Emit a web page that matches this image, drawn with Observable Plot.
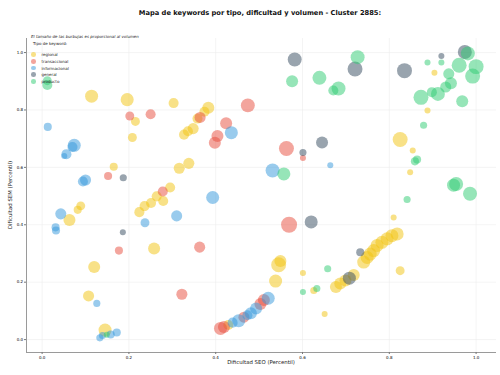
<!DOCTYPE html>
<html>
<head>
<meta charset="utf-8">
<script src="https://cdn.jsdelivr.net/npm/d3@7"></script>
<script src="https://cdn.jsdelivr.net/npm/@observablehq/plot@0.6"></script>
<style>
  body { margin: 0; background: #fff; font-family: "DejaVu Sans", sans-serif; }
  #wrap { position: relative; width: 500px; height: 375px; }
  #title { position: absolute; top: 9px; left: 0; width: 520px; text-align: center;
           font-weight: bold; font-size: 6.7px; color: #111; }
  .xlab { position: absolute; top: 358.5px; left: 0; width: 522px; text-align: center; font-size: 5.4px; color: #222; }
  .ylab { position: absolute; left: 10px; top: 195px; font-size: 5.4px; color: #222; white-space: nowrap;
          transform: translate(-50%, -50%) rotate(-90deg); }
  #legend { position: absolute; left: 31px; top: 33.5px; font-size: 4px; color: #222; }
  #legend .note { font-style: italic; }
  #legend .head { margin-top: 2.6px; margin-left: 2px; }
  #legend .item { position: absolute; left: 0; white-space: nowrap; }
  #legend .sw { position: absolute; left: 0.4px; width: 4.6px; height: 4.6px; border-radius: 50%; }
  #legend .lt { position: absolute; left: 10.5px; top: 0; }
</style>
</head>
<body>
<div id="wrap">
  <div id="title">Mapa de keywords por tipo, dificultad y volumen - Cluster 2885:</div>
  <div id="chart"></div>
  <div class="xlab">Dificultad SEO (Percentil)</div>
  <div class="ylab">Dificultad SEM (Percentil)</div>
  <div id="legend">
    <div class="note">El tamaño de las burbujas es proporcional al volumen</div>
    <div class="head">Tipo de keyword:</div>
  </div>
</div>
<script>
// Keyword types, in drawing / legend order, and their colours
const tipos = ["regional", "transaccional", "informacional", "general", "producto"];
const colores = ["#f1c40f", "#e74c3c", "#3498db", "#34495e", "#2ecc71"];

// [dificultad SEO, dificultad SEM, volumen] per keyword
const regional = [
  [0.114, 0.848, 470], [0.196, 0.836, 470], [0.303, 0.824, 280], [0.215, 0.760, 220],
  [0.208, 0.704, 220], [0.165, 0.602, 180], [0.316, 0.597, 340], [0.338, 0.614, 340],
  [0.383, 0.808, 400], [0.374, 0.794, 280], [0.358, 0.770, 280], [0.348, 0.735, 340],
  [0.336, 0.726, 280], [0.327, 0.714, 280], [0.295, 0.530, 280], [0.279, 0.483, 280],
  [0.264, 0.499, 280], [0.251, 0.476, 280], [0.236, 0.465, 280], [0.224, 0.444, 280],
  [0.089, 0.466, 220], [0.082, 0.452, 180], [0.063, 0.417, 400], [0.258, 0.317, 400],
  [0.120, 0.253, 400], [0.107, 0.152, 340], [0.145, 0.033, 470], [0.429, 0.051, 280],
  [0.545, 0.261, 620], [0.549, 0.274, 400], [0.538, 0.204, 470], [0.601, 0.232, 100],
  [0.626, 0.171, 140], [0.651, 0.089, 100], [0.677, 0.183, 400], [0.687, 0.195, 400],
  [0.699, 0.206, 400], [0.718, 0.225, 400], [0.741, 0.270, 470], [0.749, 0.286, 470],
  [0.756, 0.298, 470], [0.764, 0.310, 470], [0.772, 0.328, 470], [0.783, 0.339, 470],
  [0.795, 0.351, 470], [0.806, 0.362, 470], [0.818, 0.368, 470], [0.810, 0.425, 100],
  [0.825, 0.240, 220], [0.825, 0.697, 620], [0.854, 0.659, 100], [0.848, 0.583, 100],
  [0.888, 0.798, 100], [0.904, 0.930, 100]
];
const transaccional = [
  [0.202, 0.779, 220], [0.250, 0.785, 280], [0.152, 0.570, 180], [0.278, 0.516, 280],
  [0.364, 0.774, 340], [0.474, 0.816, 540], [0.424, 0.754, 400], [0.404, 0.709, 400],
  [0.398, 0.686, 400], [0.563, 0.666, 620], [0.601, 0.633, 100], [0.177, 0.310, 180],
  [0.363, 0.322, 340], [0.322, 0.158, 340], [0.569, 0.400, 710], [0.411, 0.039, 470],
  [0.419, 0.044, 400], [0.465, 0.078, 340], [0.503, 0.124, 400], [0.511, 0.138, 400]
];
const informacional = [
  [0.013, 0.741, 180], [0.074, 0.677, 470], [0.070, 0.671, 280], [0.056, 0.646, 280],
  [0.051, 0.640, 100], [0.100, 0.556, 340], [0.094, 0.551, 280], [0.436, 0.721, 470],
  [0.531, 0.589, 540], [0.664, 0.607, 100], [0.393, 0.495, 470], [0.237, 0.407, 220],
  [0.310, 0.431, 340], [0.043, 0.438, 340], [0.031, 0.391, 180], [0.032, 0.380, 180],
  [0.126, 0.126, 140], [0.172, 0.025, 180], [0.158, 0.018, 180], [0.139, 0.014, 140],
  [0.133, 0.006, 140], [0.439, 0.059, 280], [0.453, 0.066, 470], [0.473, 0.085, 280],
  [0.481, 0.092, 400], [0.493, 0.108, 400], [0.521, 0.144, 470]
];
const general = [
  [0.187, 0.564, 140], [0.582, 0.976, 540], [0.721, 0.943, 620], [0.835, 0.937, 620],
  [0.920, 0.988, 100], [0.974, 1.002, 540], [0.601, 0.652, 140], [0.645, 0.687, 400],
  [0.186, 0.374, 100], [0.620, 0.410, 470], [0.733, 0.304, 180], [0.708, 0.214, 470]
];
const producto = [
  [0.012, 0.902, 220], [0.012, 0.887, 280], [0.576, 0.900, 400], [0.639, 0.912, 540],
  [0.683, 0.875, 540], [0.671, 0.868, 280], [0.727, 0.984, 540], [0.557, 0.577, 470],
  [0.888, 0.965, 100], [0.920, 0.965, 100], [0.981, 0.997, 540], [0.961, 0.956, 620],
  [1.000, 0.951, 620], [0.992, 0.918, 620], [0.937, 0.926, 340], [0.942, 0.893, 400],
  [0.930, 0.880, 340], [0.912, 0.856, 540], [0.898, 0.862, 280], [0.873, 0.844, 620],
  [0.968, 0.830, 400], [0.879, 0.747, 140], [0.864, 0.627, 180], [0.859, 0.621, 180],
  [0.954, 0.542, 540], [0.948, 0.538, 470], [0.986, 0.508, 540], [0.841, 0.488, 140],
  [0.658, 0.247, 140], [0.601, 0.166, 100], [0.633, 0.178, 140], [0.149, 0.017, 100]
];

// Axis ticks
const ticks = [0, 0.2, 0.4, 0.6, 0.8, 1.0];

const series = { regional, transaccional, informacional, general, producto };
const keywords = tipos.flatMap(t => series[t].map(([seo, sem, volumen]) => ({ tipo: t, seo, sem, volumen })));

const xDomain = [-0.036, 1.047];
const yDomain = [-0.045, 1.049];

const chart = Plot.plot({
  width: 500,
  height: 375,
  marginLeft: 26,
  marginRight: 4,
  marginTop: 38,
  marginBottom: 23,
  style: { fontFamily: "DejaVu Sans, sans-serif", background: "#fff" },
  x: { domain: xDomain },
  y: { domain: yDomain },
  r: { type: "sqrt", domain: [0, 1000], range: [0, 9.5] },
  color: { domain: tipos, range: colores },
  marks: [
    Plot.gridX(ticks, { stroke: "#ececec", strokeOpacity: 1, strokeWidth: 0.6 }),
    Plot.gridY(ticks, { stroke: "#ececec", strokeOpacity: 1, strokeWidth: 0.6 }),
    Plot.dot(keywords, {
      x: "seo", y: "sem", r: "volumen", fill: "tipo",
      fillOpacity: 0.5, stroke: "none", sort: null
    }),
    Plot.ruleX([xDomain[0]], { stroke: "#9a9a9a", strokeWidth: 1 }),
    Plot.ruleY([yDomain[0]], { stroke: "#9a9a9a", strokeWidth: 1 }),
    Plot.axisX(ticks, { tickFormat: d3.format(".1f"), fontSize: 4, tickSize: 2, tickPadding: 1.5, stroke: "#777", label: null }),
    Plot.axisY(ticks, { tickFormat: d3.format(".1f"), fontSize: 4, tickSize: 2, tickPadding: 1.5, stroke: "#777", label: null })
  ]
});
document.getElementById("chart").appendChild(chart);

// Legend entries
const legend = document.getElementById("legend");
const itemTops = [18.6, 25.3, 32, 38.6, 45.3];
tipos.forEach((t, i) => {
  const item = document.createElement("div");
  item.className = "item";
  item.style.top = itemTops[i] + "px";
  const sw = document.createElement("span");
  sw.className = "sw";
  sw.style.background = colores[i];
  sw.style.opacity = 0.5;
  sw.style.top = "0.2px";
  const lt = document.createElement("span");
  lt.className = "lt";
  lt.textContent = t;
  item.appendChild(sw);
  item.appendChild(lt);
  legend.appendChild(item);
});
</script>
</body>
</html>
